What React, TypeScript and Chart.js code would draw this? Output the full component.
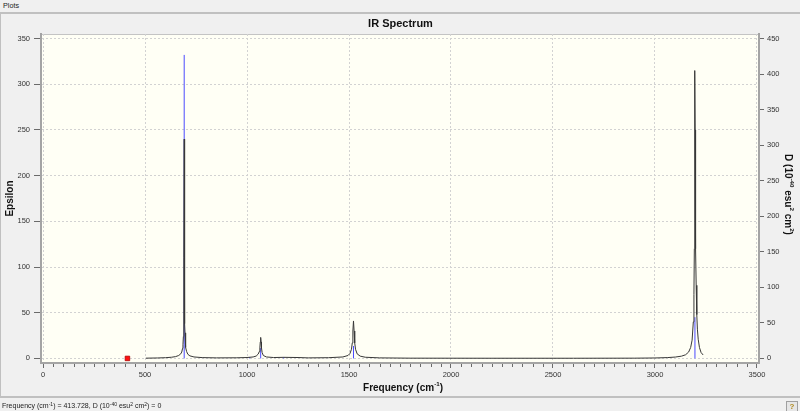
import React, { useEffect, useRef } from "react";
import { Chart, registerables } from "chart.js";

Chart.register(...registerables);

// Broadened spectrum (Epsilon, left axis)
const spectrumFreq = [
  504, 560, 600, 630, 650, 665, 675, 680, 684, 686, 688, 689, 690, 691, 692, 693, 694, 695, 696, 698, 700, 704, 710, 720, 740, 780,
  850, 950, 1000, 1030, 1045, 1055, 1060, 1063, 1065, 1067, 1069, 1071, 1074, 1080, 1095, 1130, 1180, 1250, 1300,
  1400, 1470, 1495, 1505, 1512, 1516, 1519, 1522, 1525, 1528, 1532, 1540, 1555, 1580, 1650, 1800, 2200, 2600,
  2900, 3000, 3060, 3100, 3130, 3150, 3165, 3175, 3182, 3188, 3191, 3193, 3194, 3195, 3196, 3197, 3198, 3200,
  3202, 3205, 3208, 3212, 3218, 3226, 3236,
];
const spectrumEps = [
  0.3, 0.5, 0.8, 1.3, 2.0, 3.2, 5.0, 7.0, 11, 15, 24, 32, 55, 110, 240, 110, 55, 38, 28, 17, 12, 7.5, 4.5, 2.8, 1.6, 0.9,
  0.6, 0.7, 1.0, 1.6, 2.6, 4.8, 7.5, 11.5, 18, 23, 18, 11.5, 6.5, 3.2, 1.6, 1.0, 1.2, 1.0, 0.6,
  0.8, 1.6, 3.2, 5.5, 10, 17, 30, 41, 30, 17, 10, 5, 2.5, 1.3, 0.6, 0.3, 0.2, 0.2,
  0.3, 0.5, 0.9, 1.5, 2.5, 4, 7, 12, 20, 40, 70, 120, 170, 250, 315, 250, 190, 120,
  80, 48, 32, 21, 12, 6.5, 3.8,
];

// Stick spectrum (D, right axis)
const stickFreq = [692, 1013, 1067, 1180, 1522, 3196];
const stickD = [427, 2, 14.5, 2, 17.5, 58];

// Cursor marker
const cursorFreq = [413.728];
const cursorEps = [0];

// Tick values
const xTicks = [0, 500, 1000, 1500, 2000, 2500, 3000, 3500];
const epsTicks = [0, 50, 100, 150, 200, 250, 300, 350];
const dTicks = [0, 50, 100, 150, 200, 250, 300, 350, 400, 450];

// Titles with superscripts: [text, isSuperscript]
const xTitleParts: [string, boolean][] = [["Frequency (cm", false], ["-1", true], [")", false]];
const dTitleParts: [string, boolean][] = [
  ["D (10", false], ["-40", true], [" esu", false], ["2", true], [" cm", false], ["2", true], [")", false],
];

const FONT = "'Liberation Sans', Arial, sans-serif";

function drawRich(ctx: CanvasRenderingContext2D, parts: [string, boolean][], size: number) {
  const supSize = size * 0.62;
  let total = 0;
  const widths = parts.map(([t, sup]) => {
    ctx.font = `bold ${sup ? supSize : size}px ${FONT}`;
    const w = ctx.measureText(t).width;
    total += w;
    return w;
  });
  let x = -total / 2;
  ctx.textBaseline = "alphabetic";
  ctx.textAlign = "left";
  parts.forEach(([t, sup], i) => {
    ctx.font = `bold ${sup ? supSize : size}px ${FONT}`;
    ctx.fillText(t, x, sup ? size * 0.36 - size * 0.42 : size * 0.36);
    x += widths[i];
  });
}

export default function App() {
  const ref = useRef<HTMLCanvasElement>(null);

  useEffect(() => {
    if (!ref.current) return;
    const spectrum = spectrumFreq.map((f, i) => ({ x: f, y: spectrumEps[i] }));
    const sticks: any[] = [];
    stickFreq.forEach((f, i) => {
      sticks.push({ x: f, y: 0 }, { x: f, y: stickD[i] }, { x: f, y: null });
    });
    const cursor = cursorFreq.map((f, i) => ({ x: f, y: cursorEps[i] }));

    const plotPlugin = {
      id: "plotBg",
      beforeDraw(chart: any) {
        const { ctx, chartArea: a } = chart;
        ctx.save();
        ctx.fillStyle = "#fffff5";
        ctx.fillRect(a.left, a.top, a.right - a.left, a.bottom - a.top);
        ctx.strokeStyle = "#c4c4c4";
        ctx.lineWidth = 1;
        ctx.beginPath();
        ctx.moveTo(a.left, a.top + 0.5);
        ctx.lineTo(a.right, a.top + 0.5);
        ctx.stroke();
        ctx.restore();
      },
      afterDraw(chart: any) {
        const { ctx, chartArea: a } = chart;
        const xs = chart.scales.x;
        const ys = chart.scales.y2;
        ctx.save();
        // minor ticks on the frequency axis
        ctx.strokeStyle = "#6a6a6a";
        ctx.lineWidth = 1;
        ctx.beginPath();
        for (let v = 0; v <= 3500; v += 50) {
          if (v % 500 === 0) continue;
          const px = Math.round(xs.getPixelForValue(v)) + 0.5;
          ctx.moveTo(px, a.bottom + 1);
          ctx.lineTo(px, a.bottom + 4);
        }
        ctx.stroke();
        // axis titles with superscripts
        ctx.fillStyle = "#111";
        ctx.save();
        ctx.translate((a.left + a.right) / 2 + 3, xs.bottom - 10);
        drawRich(ctx, xTitleParts, 10);
        ctx.restore();
        ctx.save();
        ctx.translate(ys.right - 11, (a.top + a.bottom) / 2 - 4);
        ctx.rotate(Math.PI / 2);
        drawRich(ctx, dTitleParts, 10);
        ctx.restore();
        ctx.restore();
      },
    };

    const tickFont = { size: 7.5, family: FONT };
    const titleFont = { size: 10, weight: "bold" as const, family: FONT };

    const chart = new Chart(ref.current, {
      type: "line",
      data: {
        datasets: [
          {
            data: cursor,
            yAxisID: "y",
            showLine: false,
            pointStyle: "rect",
            pointRadius: 3.2,
            pointBackgroundColor: "#ff1010",
            pointBorderColor: "#b00000",
            pointBorderWidth: 0.8,
            order: 0,
          },
          {
            data: spectrum,
            yAxisID: "y",
            borderColor: "#383838",
            borderWidth: 1,
            pointRadius: 0,
            tension: 0,
            order: 1,
          },
          {
            data: sticks,
            yAxisID: "y2",
            borderColor: "#4a4aff",
            borderWidth: 1,
            pointRadius: 0,
            spanGaps: false,
            order: 2,
          },
        ],
      },
      options: {
        animation: false,
        responsive: true,
        maintainAspectRatio: false,
        devicePixelRatio: 1,
        events: [],
        layout: { padding: 0, autoPadding: false },
        plugins: {
          legend: { display: false },
          tooltip: { enabled: false },
          title: {
            display: true,
            text: "IR Spectrum",
            color: "#111",
            font: { size: 11, weight: "bold", family: FONT },
            padding: { top: 3, bottom: 3.8 },
          },
        },
        scales: {
          x: {
            type: "linear",
            position: "bottom",
            min: -10,
            max: 3510,
            afterBuildTicks: (s: any) => {
              s.ticks = xTicks.map((v) => ({ value: v }));
            },
            afterFit: (s: any) => {
              s.height = 34;
            },
            ticks: {
              font: tickFont,
              color: "#333",
              padding: 2,
              maxRotation: 0,
              autoSkip: false,
              callback: (v: any) => String(v),
            },
            grid: {
              color: "#d2d2d2",
              lineWidth: 1,
              tickLength: 5,
              tickColor: "#6a6a6a",
            },
            border: { display: true, color: "#a4a4a4", width: 2, dash: [2, 2] },
            title: { display: false },
          },
          y: {
            type: "linear",
            position: "left",
            min: -5,
            max: 355,
            afterBuildTicks: (s: any) => {
              s.ticks = epsTicks.map((v) => ({ value: v }));
            },
            afterFit: (s: any) => {
              s.width = 40;
            },
            ticks: {
              font: tickFont,
              color: "#333",
              padding: 4,
              callback: (v: any) => String(v),
            },
            grid: {
              color: "#d2d2d2",
              lineWidth: 1,
              tickLength: 7,
              tickColor: "#6a6a6a",
            },
            border: { display: true, color: "#a4a4a4", width: 2, dash: [2, 2] },
            title: {
              display: true,
              text: "Epsilon",
              color: "#111",
              font: titleFont,
              padding: { top: 3.4, bottom: 0 },
            },
          },
          y2: {
            type: "linear",
            position: "right",
            min: (-5 * 450) / 350,
            max: (355 * 450) / 350,
            afterBuildTicks: (s: any) => {
              s.ticks = dTicks.map((v) => ({ value: v }));
            },
            afterFit: (s: any) => {
              s.width = 41;
            },
            ticks: {
              font: tickFont,
              color: "#333",
              padding: 3,
              callback: (v: any) => String(v),
            },
            grid: {
              drawOnChartArea: false,
              tickLength: 5,
              tickColor: "#6a6a6a",
            },
            border: { display: true, color: "#a4a4a4", width: 2 },
            title: { display: false },
          },
        },
      },
      plugins: [plotPlugin],
    } as any);

    return () => chart.destroy();
  }, []);

  const sup = { fontSize: 5, verticalAlign: "top", lineHeight: "6px" } as React.CSSProperties;

  return (
    <div
      style={{
        position: "fixed",
        left: 0,
        top: 0,
        width: 800,
        height: 411,
        overflow: "hidden",
        background: "#f0f0f0",
        fontFamily: FONT,
      }}
    >
      <div style={{ position: "absolute", left: 3, top: 1, fontSize: 7.2, color: "#222" }}>Plots</div>
      <div style={{ position: "absolute", left: 0, top: 12, width: 800, height: 1.5, background: "#c0c0c0" }} />
      <div style={{ position: "absolute", left: 0, top: 13, width: 1, height: 384, background: "#c0c0c0" }} />
      <div style={{ position: "absolute", left: 1, top: 14, width: 799, height: 383 }}>
        <canvas ref={ref} />
      </div>
      <div style={{ position: "absolute", left: 0, top: 396, width: 800, height: 1.5, background: "#c0c0c0" }} />
      <div
        style={{
          position: "absolute",
          left: 2,
          top: 401,
          fontSize: 7,
          lineHeight: "10px",
          color: "#222",
          whiteSpace: "nowrap",
        }}
      >
        Frequency (cm<span style={sup}>-1</span>) = 413.728, D (10<span style={sup}>-40</span> esu
        <span style={sup}>2</span> cm<span style={sup}>2</span>) = 0
      </div>
      <div
        style={{
          position: "absolute",
          left: 786,
          top: 401,
          width: 10,
          height: 10,
          border: "1px solid #a0a0a0",
          background: "#e6e6e6",
          fontSize: 8,
          fontWeight: "bold",
          color: "#b08a20",
          textAlign: "center",
          lineHeight: "10px",
        }}
      >
        ?
      </div>
    </div>
  );
}
